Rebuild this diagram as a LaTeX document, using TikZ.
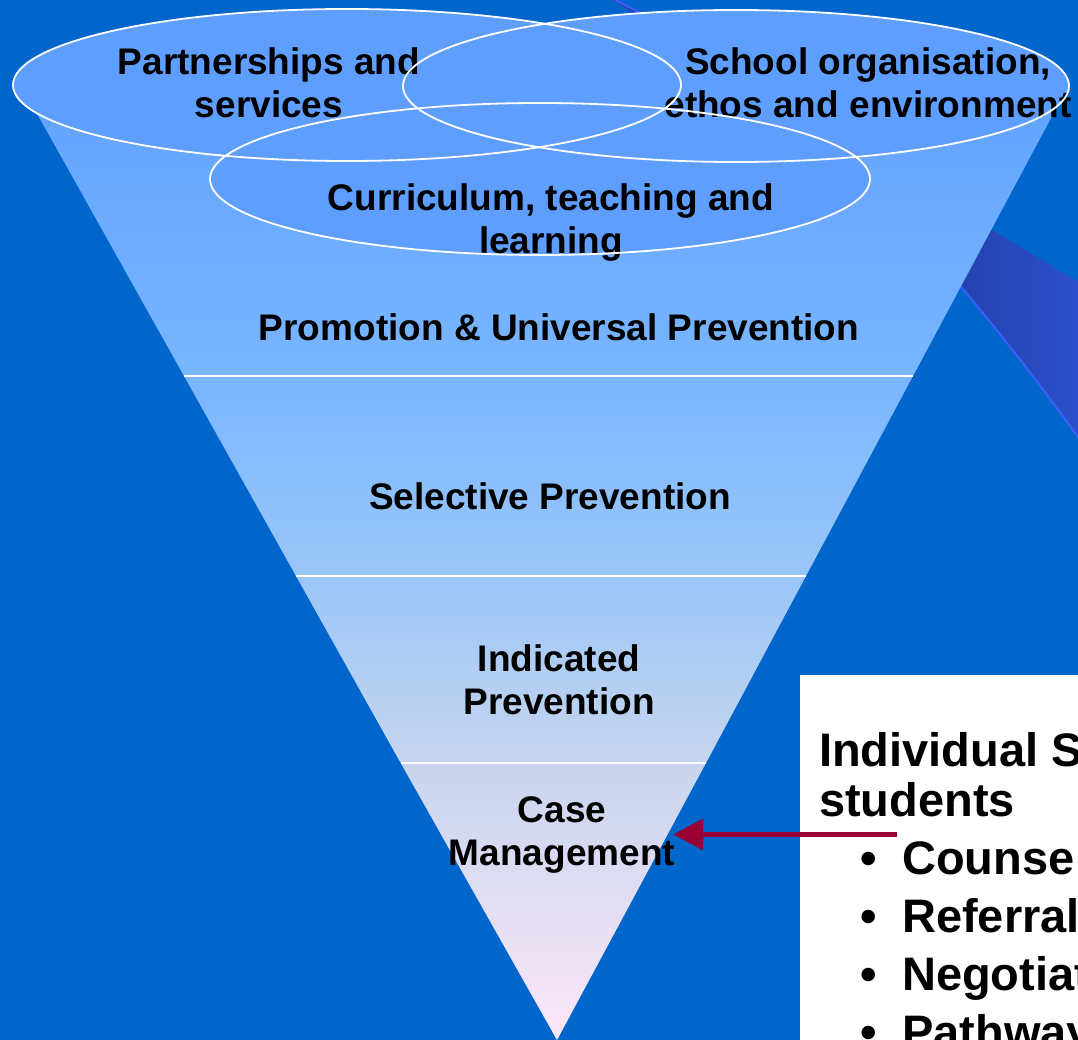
\documentclass[tikz,border=0pt]{standalone}
\usepackage{fontspec}
\setmainfont{Liberation Sans}
\usetikzlibrary{arrows.meta}
\definecolor{bg}{HTML}{0066CC}
\definecolor{bandA}{HTML}{2542AF}
\definecolor{bandB}{HTML}{2C50CA}
\definecolor{bandline}{HTML}{3B5EF8}
\definecolor{ellfill}{HTML}{5E9EFF}
\definecolor{fA}{HTML}{62A3FF}
\definecolor{fB}{HTML}{79B6FF}
\definecolor{fC}{HTML}{9AC6F8}
\definecolor{fD}{HTML}{C7D5EE}
\definecolor{fE}{HTML}{FCE6F8}
\definecolor{arrowred}{HTML}{990033}
\begin{document}
\begin{tikzpicture}[x=1pt,y=-1pt,
  lbl/.style={font=\fontsize{37}{43}\selectfont\bfseries, align=center, inner sep=0pt, text=black},
  boxtxt/.style={font=\fontsize{47}{50}\selectfont\bfseries, anchor=base west, inner sep=0pt, text=black},
  ring/.style={draw=white, line width=1.8pt},
  divider/.style={draw=white, line width=2pt},
  connector/.style={draw=arrowred, line width=5.5pt, -{Triangle[length=30pt,width=30pt]}}]
\useasboundingbox (0,0) rectangle (1078,1040);
\clip (0,0) rectangle (1078,1040);
% background
\fill[bg] (0,0) rectangle (1078,1040);
% background swoosh
\begin{scope}
  \clip (612,0) -- (1078,282) -- (1078,437) .. controls (950,260) and (800,90) .. (615,0) -- cycle;
  \fill[bandA] (600,-5) rectangle (961,445);
  \shade[left color=bandA,right color=bandB] (960,-5) rectangle (1078,445);
\end{scope}
\draw[bandline, line width=2pt] (615,0) .. controls (800,90) and (950,260) .. (1078,437);
% funnel sections
\shade[top color=fA, bottom color=fB] (29.4,100) -- (1060.7,100) -- (913,376) -- (184,376) -- cycle;
\shade[top color=fB, bottom color=fC] (184,376) -- (913,376) -- (806,576) -- (296,576) -- cycle;
\shade[top color=fC, bottom color=fD] (296,576) -- (806,576) -- (706,763) -- (400.7,763) -- cycle;
\shade[top color=fD, bottom color=fE] (400.7,763) -- (706,763) -- (557,1040) -- cycle;
\draw[divider] (184,376) -- (913,376);
\draw[divider] (296,576) -- (806,576);
\draw[divider] (400.7,763) -- (706,763);
% ellipses
\fill[ellfill] (347,85) ellipse [x radius=334pt, y radius=76pt];
\fill[ellfill] (736,86) ellipse [x radius=333pt, y radius=76pt];
\fill[ellfill] (540,179) ellipse [x radius=330pt, y radius=76pt];
% labels
\node[lbl] (partners) at (269,83) {Partnerships and\\services};
\node[lbl] (school) at (868,83) {School organisation,\\ethos and environment};
\node[lbl] (curric) at (551,223) {Curriculum, teaching and\\learning};
\node[lbl, anchor=base] (promo) at (559,340) {Promotion \& Universal Prevention};
\node[lbl, anchor=base] (select) at (550,509) {Selective Prevention};
\node[lbl] (indic) at (559,680) {Indicated\\Prevention};
\node[lbl] (case) at (562,835) {Case\\Management};
% ellipse outlines
\draw[ring] (347,85) ellipse [x radius=334pt, y radius=76pt];
\draw[ring] (736,86) ellipse [x radius=333pt, y radius=76pt];
\draw[ring] (540,179) ellipse [x radius=330pt, y radius=76pt];
% white box
\fill[white] (800,675) rectangle (1090,1050);
\node[boxtxt] (indiv) at (819,766) {Individual S};
\node[boxtxt] (stud) at (819,816) {students};
\node[boxtxt] (b1) at (860,874) {\makebox[42pt][l]{•}Counse};
\node[boxtxt] (b2) at (860,932) {\makebox[42pt][l]{•}Referral};
\node[boxtxt] (b3) at (860,990) {\makebox[42pt][l]{•}Negotiat};
\node[boxtxt] (b4) at (860,1048) {\makebox[42pt][l]{•}Pathway};
% arrow
\coordinate (arrowstart) at (897,834.5);
\coordinate (arrowtip) at (673,834.5);
\draw[connector] (arrowstart) -- (arrowtip);
\end{tikzpicture}
\end{document}
